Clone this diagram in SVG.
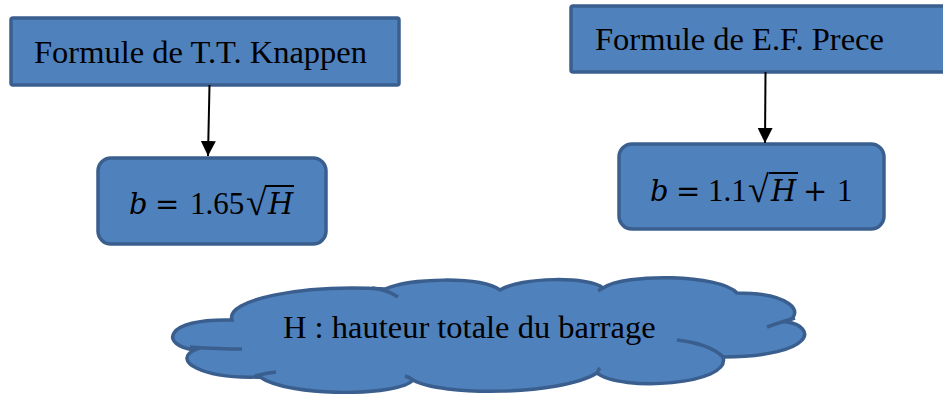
<svg xmlns="http://www.w3.org/2000/svg" width="943" height="394" viewBox="0 0 943 394">
<style>
.box{fill:#4F81BD;stroke:#3A5F8E;stroke-width:3.5}
.lbl{font-family:"Liberation Serif","Times New Roman",serif;font-size:32.5px;fill:#000}
.m{font-family:"DejaVu Serif","Liberation Serif",serif;font-size:29px;fill:#000}
.d{font-family:"Liberation Serif","Times New Roman",serif;font-size:31px}
.i{font-style:italic}
.rad{font-family:"Liberation Serif","Times New Roman",serif;font-size:38px}
.conn{stroke:#000;stroke-width:2;fill:none}
.inner{fill:none;stroke:#3A5F8E;stroke-width:3.5;stroke-linecap:butt}
</style>
<defs>
<marker id="ah" viewBox="0 0 10 10" refX="10" refY="5" markerWidth="7.5" markerHeight="7.5" markerUnits="strokeWidth" orient="auto">
<path d="M0,0 L10,5 L0,10 z" fill="#000"/>
</marker>
</defs>
<rect width="943" height="394" fill="#fff"/>
<g id="knappen-title">
<rect class="box" x="11" y="18" width="388" height="67" rx="2"/>
<text class="lbl" x="34" y="63">Formule de T.T. Knappen</text>
</g>
<g id="knappen-formula">
<rect class="box" x="98" y="158" width="228" height="86" rx="13"/>
<text class="m"><tspan class="i" x="129" y="214">b</tspan><tspan x="155" y="214">=</tspan><tspan class="d" x="190" y="214">1.65</tspan><tspan class="rad" x="246" y="215">√</tspan><tspan class="i" x="268" y="214">H</tspan></text>
<line x1="266" y1="186" x2="294" y2="186" stroke="#000" stroke-width="2"/>
</g>
<g id="prece-title">
<rect class="box" x="571" y="6" width="380" height="66" rx="2"/>
<text class="lbl" x="595" y="50">Formule de E.F. Prece</text>
</g>
<g id="prece-formula">
<rect class="box" x="619" y="144" width="265" height="85" rx="13"/>
<text class="m"><tspan class="i" x="650" y="201">b</tspan><tspan x="676" y="201">=</tspan><tspan class="d" x="708" y="201">1.1</tspan><tspan class="rad" x="748" y="202">√</tspan><tspan class="i" x="771" y="201">H</tspan><tspan x="803" y="201">+</tspan><tspan class="d" x="837" y="201">1</tspan></text>
<line x1="769" y1="173" x2="798" y2="173" stroke="#000" stroke-width="2"/>
</g>
<g id="cloud">
<path class="box" d="M232 320 C225 300 300 284 385 289 C410 278 480 276 500 290 C520 277 590 276 603 288 C625 273 720 274 737 293 C790 293 806 312 787 322 C816 326 818 356 723 357 C732 385 620 392 597 373 C560 396 440 396 413 380 C400 396 290 398 260 377 C200 379 172 360 195 350 C160 346 162 318 232 320 Z"/>
<path class="inner" d="M190 347 Q220 349 242 349"/>
<path class="inner" d="M255 376 Q266 373 276 372"/>
<path class="inner" d="M372 288 Q388 290 398 297"/>
<path class="inner" d="M413 380 Q409 377 405 376"/>
<path class="inner" d="M603 288 Q601 289 598 291"/>
<path class="inner" d="M767 327 Q784 321 795 318"/>
<path class="inner" d="M677 340 Q710 344 723 357"/>
<path class="inner" d="M597 373 Q598 370 600 368"/>
<text class="lbl" x="283" y="338" font-size="31.5">H : hauteur totale du barrage</text>
</g>
<g id="connectors">
<line class="conn" x1="209.5" y1="85" x2="208" y2="156" marker-end="url(#ah)"/>
<line class="conn" x1="765.5" y1="72" x2="765" y2="143" marker-end="url(#ah)"/>
</g>
</svg>
